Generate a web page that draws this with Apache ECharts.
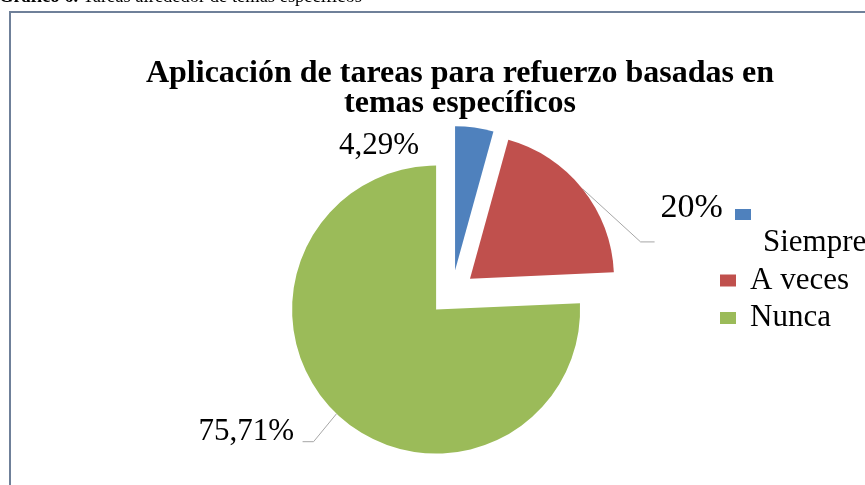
<!DOCTYPE html>
<html>
<head>
<meta charset="utf-8">
<title>Aplicación de tareas para refuerzo</title>
<script src="https://cdn.jsdelivr.net/npm/echarts@6/dist/echarts.min.js"></script>
<style>
	html, body { margin: 0; padding: 0; background: #fff; }
	#chart { width: 865px; height: 485px; }
</style>
</head>
<body>
<div id="chart"></div>
<script>
var FONT = "'Liberation Serif', 'Times New Roman', serif";

// datos del grafico
var categories = ['Siempre', 'A veces', 'Nunca'];
var values = [4.29, 20, 75.71];
var labelTexts = ['4,29%', '20%', '75,71%'];
var colors = ['#4F81BD', '#C0504D', '#9BBB59'];

// geometria del pastel (separado como en excel)
var PIE_CENTER = [452, 293];
var PIE_RADIUS = 144;
var EXPLODE = 23;
var LABEL_SIZE = [31, 34, 31];

var myChart = echarts.init(document.getElementById('chart'));

// mover etiquetas y lineas como en el grafico original
function makeLabelLayout(k) {
	return function(params) {
		if (k == 0) {
			return {
				x: params.rect.x - 76,
				y: params.rect.y + 20,
				align: 'center',
				verticalAlign: 'middle'
			};
		}
		var p0 = params.labelLinePoints[0];
		var p1, p2;
		if (k == 1) {
			p1 = [p0[0] + 58, p0[1] + 53];
			p2 = [p1[0] + 14, p1[1]];
			return {
				x: p2[0] + 6,
				y: p2[1] - 33.5,
				align: 'left',
				verticalAlign: 'middle',
				labelLinePoints: [p0, p1, p2]
			};
		}
		p1 = [p0[0] - 23, p0[1] + 28];
		p2 = [p1[0] - 11, p1[1]];
		return {
			x: p2[0] - 8.5,
			y: p2[1] - 10,
			align: 'right',
			verticalAlign: 'middle',
			labelLinePoints: [p0, p1, p2]
		};
	};
}

// una serie por porcion para poder separarlas
function buildSeries() {
	var total = 0;
	for (var i = 0; i < values.length; i++) total += values[i];
	var cum = 0;
	var list = [];
	for (var k = 0; k < values.length; k++) {
		var start = cum / total * 360;
		var span = values[k] / total * 360;
		var mid = (start + span / 2) * Math.PI / 180;
		list.push({
			name: categories[k],
			type: 'pie',
			center: [PIE_CENTER[0] + EXPLODE * Math.sin(mid), PIE_CENTER[1] - EXPLODE * Math.cos(mid)],
			radius: PIE_RADIUS,
			startAngle: 90 - start,
			endAngle: 90 - start - span,
			clockwise: true,
			avoidLabelOverlap: false,
			silent: true,
			itemStyle: { color: colors[k] },
			label: {
				show: true,
				position: 'outside',
				fontFamily: FONT,
				fontSize: LABEL_SIZE[k],
				color: '#000',
				formatter: labelTexts[k]
			},
			labelLine: {
				show: k != 0,
				lineStyle: { color: '#A6A6A6', width: 1 }
			},
			labelLayout: makeLabelLayout(k),
			emphasis: { disabled: true },
			data: [{ name: categories[k], value: values[k] }]
		});
		cum += values[k];
	}
	return list;
}

myChart.setOption({
	animation: false,
	title: {
		text: 'Aplicación de tareas para refuerzo basadas en\ntemas específicos',
		left: 455,
		top: 54,
		textAlign: 'center',
		textStyle: {
			fontFamily: FONT,
			fontSize: 32,
			fontWeight: 'bold',
			lineHeight: 30,
			color: '#000'
		}
	},
	legend: [
		{
			// "Siempre" queda partido como en excel
			data: ['Siempre'],
			orient: 'vertical',
			left: 735,
			top: 171,
			padding: 0,
			icon: 'rect',
			itemWidth: 16,
			itemHeight: 11,
			selectedMode: false,
			formatter: '{a|{name}}',
			textStyle: {
				color: '#000',
				rich: {
					a: { fontFamily: FONT, fontSize: 31, lineHeight: 34, padding: [56, 0, 0, 7], color: '#000' }
				}
			}
		},
		{
			data: ['A veces', 'Nunca'],
			orient: 'vertical',
			left: 720,
			top: 265,
			padding: 0,
			icon: 'rect',
			itemWidth: 16,
			itemHeight: 12,
			itemGap: 6.5,
			selectedMode: false,
			formatter: '{a|{name}}',
			textStyle: {
				color: '#000',
				rich: {
					a: { fontFamily: FONT, fontSize: 31, padding: [0, 0, 0, 9], color: '#000' }
				}
			}
		}
	],
	graphic: [
		{
			// marco
			type: 'rect',
			shape: { x: 10, y: 12, width: 880, height: 500 },
			style: { fill: 'none', stroke: '#6F8099', lineWidth: 2 },
			silent: true
		},
		{
			type: 'text',
			x: -1,
			y: -3,
			style: {
				text: '{b|Gráfico 6.} Tareas alrededor de temas específicos',
				font: '18.5px ' + FONT,
				fill: '#000',
				verticalAlign: 'middle',
				rich: {
					b: { fontFamily: FONT, fontSize: 18.5, fontWeight: 'bold', fill: '#000' }
				}
			},
			silent: true
		}
	],
	series: buildSeries()
});
</script>
</body>
</html>
